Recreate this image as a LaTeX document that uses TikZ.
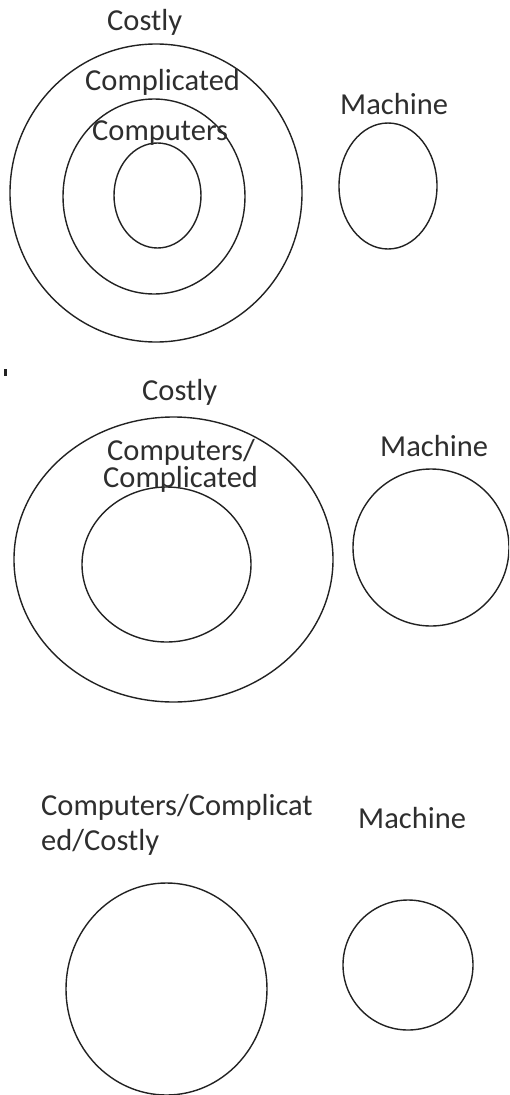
\documentclass[tikz,border=0pt]{standalone}
\usepackage{fontspec}
\setmainfont{Carlito}
\usetikzlibrary{shapes.geometric}
\definecolor{ink}{HTML}{222222}
\definecolor{txt}{HTML}{2E2E2E}
\tikzset{
  ring/.style={draw=ink, line width=1.4pt, ellipse, inner sep=0pt},
  lbl/.style={anchor=base west, inner sep=0pt, text=txt,
              font=\fontsize{30.5}{36}\selectfont},
}
\begin{document}
\begin{tikzpicture}[x=1pt, y=-1pt]
\useasboundingbox (0,0) rectangle (509,1095);
\clip (0,0) rectangle (509,1095);

% ---- first diagram: nested sets
\node[ring, minimum width=292pt, minimum height=298pt] (costA) at (156,193) {};
\node[ring, minimum width=182pt, minimum height=195pt] (compA) at (154,196.5) {};
\node[ring, minimum width=87pt,  minimum height=105pt] (pcA)   at (157.5,195.5) {};
\node[ring, minimum width=98pt,  minimum height=126pt] (machA) at (388,186) {};
\node[lbl] (tCostA) at (107,30.5) {Costly};
\node[lbl] (tCompA) at (85,90)    {Complicated};
\node[lbl] (tPcA)   at (92,140)   {Computers};
\node[lbl] (tMachA) at (340,114)  {Machine};

% ---- second diagram
\fill[ink] (4,369) rectangle (6.5,376);
\node[ring, minimum width=319pt, minimum height=285pt] (costB) at (173.5,559.5) {};
\node[ring, minimum width=169pt, minimum height=155pt] (pcB)   at (166.5,564.5) {};
\node[ring, minimum width=156pt, minimum height=157pt] (machB) at (431,547.5) {};
\node[lbl] (tCostB)  at (142,400.7) {Costly};
\node[lbl] (tPcB)    at (107,460)   {Computers/};
\node[lbl] (tCompB)  at (103,487.5) {Complicated};
\node[lbl] (tMachB)  at (380,456.5) {Machine};

% ---- third diagram
\node[ring, minimum width=201pt, minimum height=212pt] (allC)  at (166.5,989) {};
\node[ring, minimum width=130pt, minimum height=130pt] (machC) at (408,965) {};
\node[lbl] (tAllC1) at (41,815)   {Computers/Complicat};
\node[lbl] (tAllC2) at (41,850.5) {ed/Costly};
\node[lbl] (tMachC) at (358,828)  {Machine};
\end{tikzpicture}
\end{document}
